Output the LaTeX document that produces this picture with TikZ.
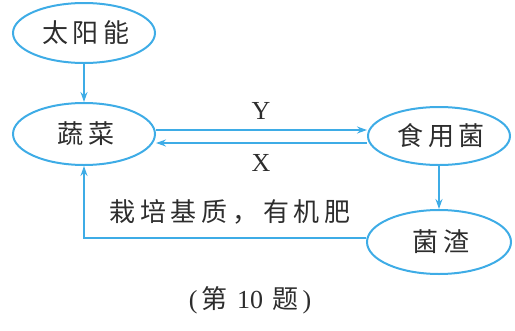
\documentclass[tikz,border=0pt]{standalone}
\usepackage{fontspec}
\setmainfont{Liberation Serif}
\newfontfamily\cjk[LetterSpace=18]{Noto Sans CJK SC}
\usetikzlibrary{shapes.geometric,arrows.meta}
\definecolor{lineblue}{RGB}{62,172,230}
\definecolor{txt}{RGB}{45,45,45}
\begin{document}
\begin{tikzpicture}[x=1pt,y=-1pt,
  oval/.style={ellipse,draw=lineblue,line width=2pt,minimum width=142pt,minimum height=60pt,inner sep=0pt,text=txt,font=\cjk\fontsize{26}{29}\selectfont},
  conn/.style={draw=lineblue,line width=2pt,-{Stealth[length=10pt,width=7pt]}},
  lab/.style={text=txt,inner sep=0pt}]
\useasboundingbox (0,0) rectangle (515,330);
\node[oval] (sun) at (84,33) {\hspace{4pt}太阳能};
\node[oval,minimum height=62pt] (veg) at (84,134) {\hspace{4pt}蔬菜};
\node[oval,minimum height=58pt] (fun) at (439,136) {\hspace{4pt}食用菌};
\node[oval,minimum width=144pt,minimum height=64pt] (res) at (439,242) {\hspace{4pt}菌渣};
\draw[conn] (sun) -- (veg);
\draw[conn] (veg.east |- 0,130) -- (fun.west |- 0,130);
\draw[conn] (fun.west |- 0,143) -- (veg.east |- 0,143);
\draw[conn] (fun) -- (res);
\coordinate (corner) at (84,238);
\draw[conn] (res.west |- 0,238) -- (corner) -- (veg.south);
\node[lab,font=\fontsize{26}{29}\selectfont] (ylab) at (261,111) {Y};
\node[lab,font=\fontsize{26}{29}\selectfont] (xlab) at (261,163) {X};
\node[lab,font=\cjk\fontsize{26}{29}\selectfont] (subs) at (228,212) {\hspace{4pt}栽培基质，有机肥};
\node[lab,font=\fontsize{26}{29}\selectfont] (cap) at (250,300) {(\hspace{4pt}{\cjk\addfontfeature{LetterSpace=0}第}\hspace{3pt} 10\hspace{3pt} {\cjk\addfontfeature{LetterSpace=0}题}\hspace{4pt})};
\end{tikzpicture}
\end{document}
